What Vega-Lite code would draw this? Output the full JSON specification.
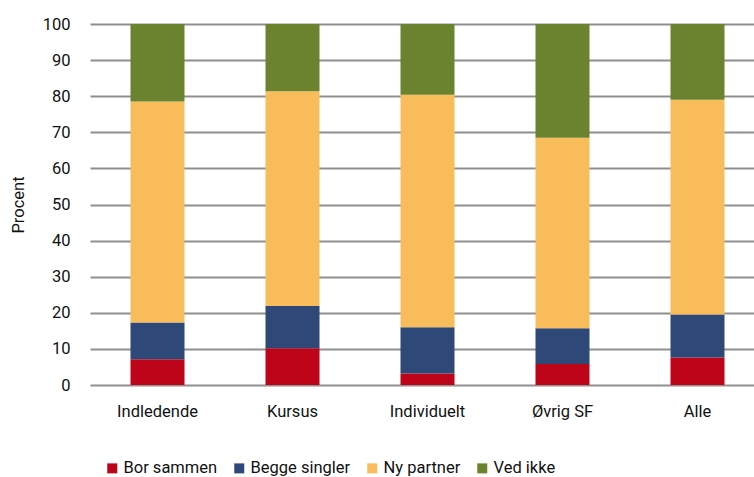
{
  "$schema": "https://vega.github.io/schema/vega-lite/v6.json",
  "autosize": {"type": "none"},
  "padding": {"left": 90, "top": 24, "right": 0, "bottom": 92},
  "width": 675,
  "height": 361,
  "config": {
    "view": {"stroke": null},
    "font": "Roboto",
    "axis": {"labelFont": "Roboto", "titleFont": "Roboto", "labelColor": "#111111", "titleColor": "#111111"},
    "legend": {"labelFont": "Roboto"}
  },
  "data": {
    "values": [
      {"gruppe": "Indledende", "status": "Bor sammen", "o": 1, "v": 7.1},
      {"gruppe": "Indledende", "status": "Begge singler", "o": 2, "v": 10.2},
      {"gruppe": "Indledende", "status": "Ny partner", "o": 3, "v": 61.2},
      {"gruppe": "Indledende", "status": "Ved ikke", "o": 4, "v": 21.5},
      {"gruppe": "Kursus", "status": "Bor sammen", "o": 1, "v": 10.2},
      {"gruppe": "Kursus", "status": "Begge singler", "o": 2, "v": 11.7},
      {"gruppe": "Kursus", "status": "Ny partner", "o": 3, "v": 59.5},
      {"gruppe": "Kursus", "status": "Ved ikke", "o": 4, "v": 18.6},
      {"gruppe": "Individuelt", "status": "Bor sammen", "o": 1, "v": 3.2},
      {"gruppe": "Individuelt", "status": "Begge singler", "o": 2, "v": 12.8},
      {"gruppe": "Individuelt", "status": "Ny partner", "o": 3, "v": 64.4},
      {"gruppe": "Individuelt", "status": "Ved ikke", "o": 4, "v": 19.6},
      {"gruppe": "Øvrig SF", "status": "Bor sammen", "o": 1, "v": 5.8},
      {"gruppe": "Øvrig SF", "status": "Begge singler", "o": 2, "v": 9.9},
      {"gruppe": "Øvrig SF", "status": "Ny partner", "o": 3, "v": 52.8},
      {"gruppe": "Øvrig SF", "status": "Ved ikke", "o": 4, "v": 31.5},
      {"gruppe": "Alle", "status": "Bor sammen", "o": 1, "v": 7.6},
      {"gruppe": "Alle", "status": "Begge singler", "o": 2, "v": 11.9},
      {"gruppe": "Alle", "status": "Ny partner", "o": 3, "v": 59.5},
      {"gruppe": "Alle", "status": "Ved ikke", "o": 4, "v": 21.0}
    ]
  },
  "mark": {"type": "bar"},
  "encoding": {
    "x": {
      "field": "gruppe", "type": "nominal",
      "sort": ["Indledende", "Kursus", "Individuelt", "Øvrig SF", "Alle"],
      "scale": {"paddingInner": 0.6, "paddingOuter": 0.3},
      "axis": {"title": null, "labelAngle": 0, "labelFontSize": 16.5, "labelPadding": 18, "ticks": false, "domain": false}
    },
    "y": {
      "field": "v", "type": "quantitative", "stack": "zero",
      "scale": {"domain": [0, 100], "nice": false},
      "axis": {
        "title": "Procent", "titleFontSize": 16.5, "titleFontWeight": "normal", "titlePadding": 16,
        "values": [0, 10, 20, 30, 40, 50, 60, 70, 80, 90, 100],
        "labelFontSize": 16.5, "labelPadding": 20, "ticks": false, "domain": false,
        "gridColor": "#8f8f8f", "gridWidth": 2, "gridOpacity": 1
      }
    },
    "color": {
      "field": "status", "type": "nominal",
      "scale": {
        "domain": ["Bor sammen", "Begge singler", "Ny partner", "Ved ikke"],
        "range": ["#BE0418", "#2E4877", "#F9BC5A", "#6B822E"]
      },
      "legend": {
        "title": null, "orient": "none", "direction": "horizontal",
        "legendX": 14, "legendY": 436,
        "symbolType": "square", "symbolSize": 100, "symbolStrokeWidth": 0,
        "labelFontSize": 16.5, "labelOffset": 3, "columnPadding": 13, "labelColor": "#111111"
      }
    },
    "order": {"field": "o", "type": "quantitative"}
  }
}
